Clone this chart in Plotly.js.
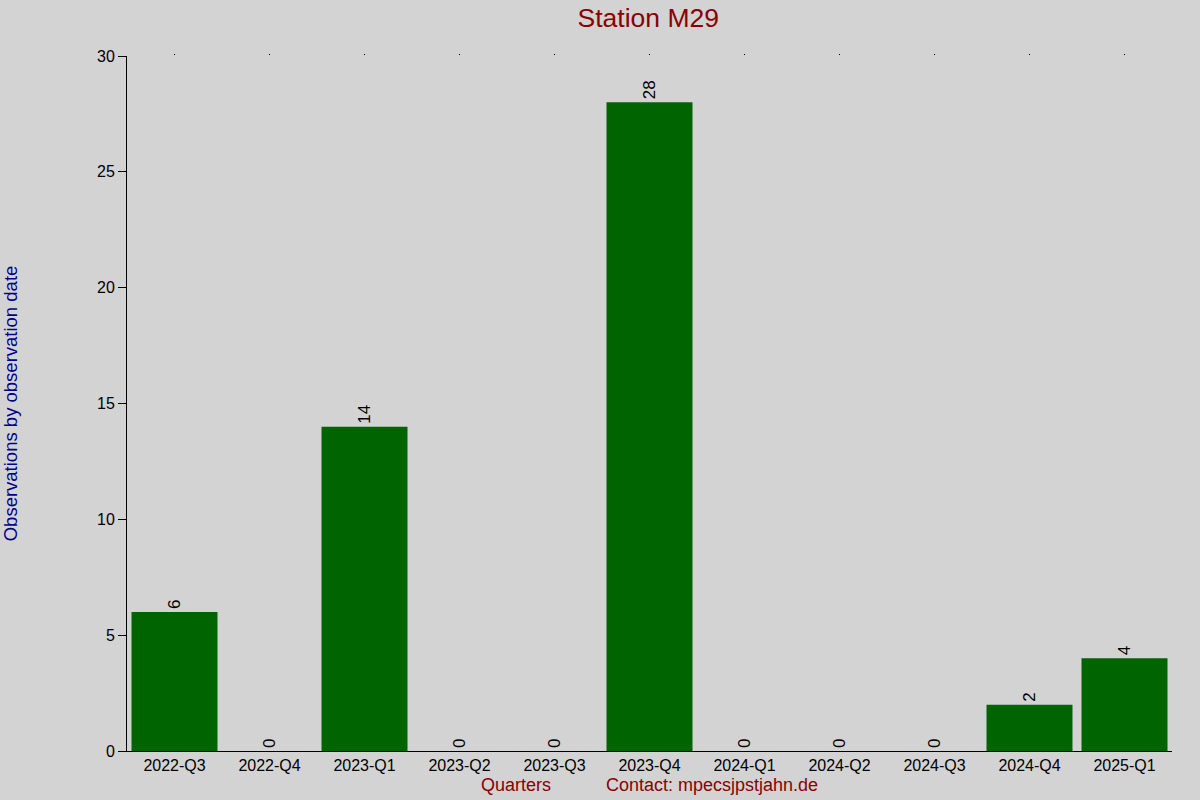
<!DOCTYPE html>
<html>
<head>
<meta charset="utf-8">
<script src="https://cdn.plot.ly/plotly-3.0.1.min.js"></script>
<style>
  html, body { margin: 0; padding: 0; background: #d3d3d3; }
  #chart { width: 1200px; height: 800px; }
</style>
</head>
<body>
<div id="chart"></div>
<script>
// quarters and observation counts
var quarters = ["2022-Q3", "2022-Q4", "2023-Q1", "2023-Q2", "2023-Q3", "2023-Q4",
                "2024-Q1", "2024-Q2", "2024-Q3", "2024-Q4", "2025-Q1"];
var counts = [6, 0, 14, 0, 0, 28, 0, 0, 0, 2, 4];
var yTicks = [0, 5, 10, 15, 20, 25, 30];

var FONT = "Liberation Sans, Arial, sans-serif";

var bars = {
    x: quarters,
    y: counts,
    type: "bar",
    marker: { color: "#006400" },
    text: counts.map(String),
    textposition: "outside",
    textangle: -90,
    constraintext: "none",
    cliponaxis: false,
    textfont: { family: FONT, size: 17, color: "#000000" },
    hoverinfo: "x+y"
};

// invisible trace so the top axis (the little dots) gets drawn
var topDots = {
    x: quarters,
    y: counts,
    xaxis: "x2",
    type: "scatter",
    mode: "markers",
    marker: { opacity: 0 },
    hoverinfo: "skip",
    showlegend: false
};

var gap = "\u00a0\u00a0\u00a0\u00a0\u00a0\u00a0\u00a0\u00a0\u00a0\u00a0\u00a0";

var layout = {
    width: 1200,
    height: 800,
    paper_bgcolor: "#d3d3d3",
    plot_bgcolor: "#d3d3d3",
    showlegend: false,
    bargap: 0.095,
    font: { family: FONT, color: "#000000" },
    margin: { l: 127, r: 28, t: 56, b: 49, pad: 0 },
    title: {
        text: "Station M29",
        font: { family: FONT, size: 26.5, color: "#8b0000" },
        x: 0.5402,
        xanchor: "center",
        y: 0.978,
        yanchor: "middle"
    },
    xaxis: {
        type: "category",
        range: [-0.5, quarters.length - 0.5],
        showline: true,
        linecolor: "#000000",
        linewidth: 1,
        ticks: "",
        showgrid: false,
        zeroline: false,
        tickfont: { family: FONT, size: 16, color: "#000000" },
        title: {
            text: "Quarters" + gap + "Contact: mpecsjpstjahn.de",
            font: { family: FONT, size: 18, color: "#8b0000" },
            standoff: 5
        }
    },
    xaxis2: {
        type: "category",
        overlaying: "x",
        matches: "x",
        side: "top",
        showline: false,
        ticks: "outside",
        ticklen: 1,
        tickwidth: 1,
        tickcolor: "#000000",
        showticklabels: false,
        showgrid: false,
        zeroline: false
    },
    yaxis: {
        range: [0, 30],
        tickvals: yTicks,
        ticktext: yTicks.map(String),
        showline: true,
        linecolor: "#000000",
        linewidth: 1,
        ticks: "outside",
        ticklen: 8,
        tickwidth: 1,
        tickcolor: "#000000",
        showgrid: false,
        zeroline: false,
        tickfont: { family: FONT, size: 16, color: "#000000" },
        title: {
            text: "Observations by observation date",
            font: { family: FONT, size: 18.5, color: "#00008b" },
            standoff: 78
        }
    }
};

Plotly.newPlot("chart", [bars, topDots], layout, { displayModeBar: false, staticPlot: true });
</script>
</body>
</html>
